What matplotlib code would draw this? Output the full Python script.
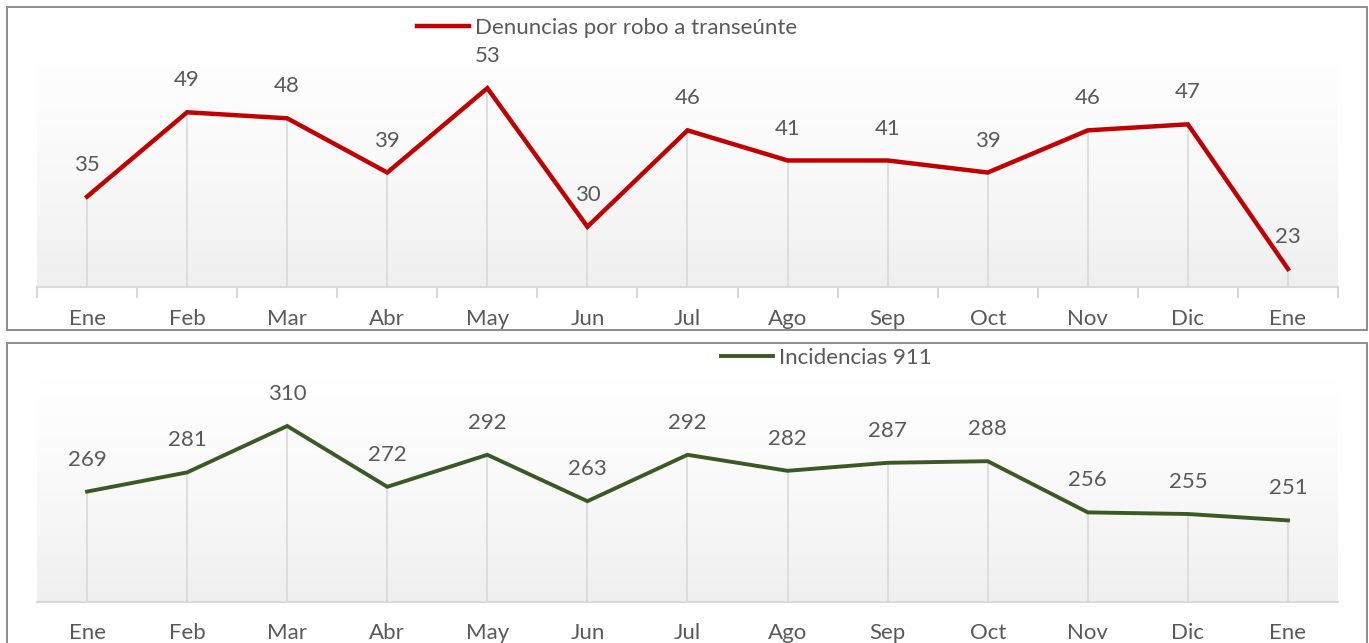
import numpy as np
import matplotlib
matplotlib.use("Agg")
import matplotlib.pyplot as plt
from matplotlib.patches import Rectangle
from matplotlib.colors import LinearSegmentedColormap

# datos
meses = ["Ene", "Feb", "Mar", "Abr", "May", "Jun", "Jul", "Ago", "Sep", "Oct", "Nov", "Dic", "Ene"]
denuncias = [35, 49, 48, 39, 53, 30, 46, 41, 41, 39, 46, 47, 23]
incidencias = [269, 281, 310, 272, 292, 263, 292, 282, 287, 288, 256, 255, 251]

plt.rcParams['font.family'] = ['Lato', 'DejaVu Sans']
gris_txt = "#595959"
gris_lin = "#d9d9d9"

W, H = 1369, 643
fig = plt.figure(figsize=(W / 100, H / 100), dpi=100)

# marcos de cada grafica
fig.add_artist(Rectangle((7 / W, 1 - 330 / H), 1360 / W, 323 / H, transform=fig.transFigure,
                         fill=False, edgecolor="#8c8c8c", lw=1.4))
fig.add_artist(Rectangle((7 / W, -0.02), 1360 / W, 1 - 343 / H + 0.02, transform=fig.transFigure,
                         fill=False, edgecolor="#8c8c8c", lw=1.4))

cmap = LinearSegmentedColormap.from_list("fondo", ["#ffffff", "#f9f9f9", "#efefef"])


def panel(rect, vals, ylim, color, lw, label, leg_xy, ticks, pad):
    ax = fig.add_axes(rect)
    x = np.arange(len(vals))
    grad = np.linspace(0, 1, 256).reshape(-1, 1)
    ax.imshow(grad, cmap=cmap, aspect="auto", extent=[-0.5, len(vals) - 0.5, ylim[0], ylim[1]],
              origin="upper", zorder=0)
    ax.vlines(x, ylim[0], vals, color=gris_lin, lw=1.2, zorder=1)
    ax.plot(x, vals, color=color, lw=lw, label=label, zorder=3, solid_joinstyle="miter")
    for xi, v in zip(x, vals):
        ax.annotate(str(v), (xi, v), xytext=(0, 23), textcoords="offset points",
                    ha="center", va="center", fontsize=16, color=gris_txt)
    ax.set_xlim(-0.5, len(vals) - 0.5)
    ax.set_ylim(*ylim)
    ax.set_yticks([])
    ax.set_xticks(x)
    ax.set_xticklabels(meses, fontsize=16, color=gris_txt)
    ax.tick_params(axis="x", which="major", length=0, pad=pad)
    if ticks:
        ax.set_xticks(np.arange(-0.5, len(vals)), minor=True)
        ax.tick_params(axis="x", which="minor", length=8, color=gris_lin, width=1.5)
    for s in ["top", "right", "left"]:
        ax.spines[s].set_visible(False)
    ax.spines["bottom"].set_color(gris_lin)
    ax.spines["bottom"].set_linewidth(1.5)
    ax.patch.set_visible(False)
    fig.legend(handles=ax.get_lines(), loc="center", bbox_to_anchor=leg_xy, frameon=False,
               fontsize=16, labelcolor=gris_txt, handlelength=2.35, handletextpad=0.27)
    return ax


panel([37 / W, 1 - 287 / H, 1301 / W, 241 / H], denuncias, (20, 60), "#c00000", 3.2,
      "Denuncias por robo a transeúnte", (607 / W, 1 - 28 / H), True, 16)
panel([37 / W, 1 - 602 / H, 1301 / W, 224 / H], incidencias, (200, 340), "#3a5a24", 2.8,
      "Incidencias 911", (826 / W, 1 - 358 / H), False, 15)

fig.savefig("out.png", dpi=100)
